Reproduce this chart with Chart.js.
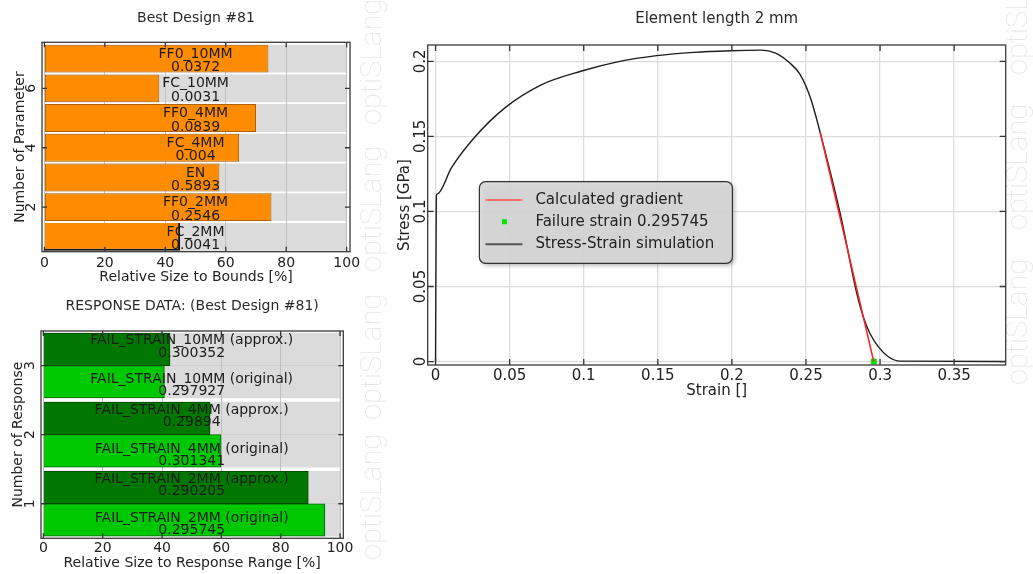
<!DOCTYPE html>
<html>
<head>
<meta charset="utf-8">
<script src="https://cdn.jsdelivr.net/npm/chart.js@4.4.0/dist/chart.umd.min.js"></script>
<style>
body { margin: 0; background: #fff; width: 1033px; height: 574px; overflow: hidden; position: relative; }
canvas { position: absolute; }
</style>
</head>
<body>
<canvas id="paramChart" width="390" height="290" style="left:0;top:0"></canvas>
<canvas id="responseChart" width="390" height="284" style="left:0;top:290px"></canvas>
<canvas id="strainChart" width="643" height="400" style="left:390px;top:0"></canvas>
<script>
Chart.defaults.font.family = '"DejaVu Sans", Verdana, sans-serif';
Chart.defaults.font.size = 14;
Chart.defaults.color = '#222';

// parameters of best design
var paramNames = ['FC_2MM', 'FF0_2MM', 'EN', 'FC_4MM', 'FF0_4MM', 'FC_10MM', 'FF0_10MM'];
var paramValues = ['0.0041', '0.2546', '0.5893', '0.004', '0.0839', '0.0031', '0.0372'];
var paramSize = [44.9, 75.1, 57.9, 64.4, 70.0, 38.0, 74.1];
var paramNumber = [1, 2, 3, 4, 5, 6, 7];
var paramTicks = [2, 4, 6];

// responses of best design
var responseNames = ['FAIL_STRAIN_2MM', 'FAIL_STRAIN_4MM', 'FAIL_STRAIN_10MM'];
var responseNumber = [1, 2, 3];
var approxValues = ['0.290205', '0.29894', '0.300352'];
var originalValues = ['0.295745', '0.301341', '0.297927'];
var approxSize = [89.3, 56.2, 42.7];
var originalSize = [94.9, 59.9, 40.8];
var responseTicks = [1, 2, 3];

var fullRange = 100;
var sizeTicks = [0, 20, 40, 60, 80, 100];

// stress-strain curve
var strain = [0, 0.0005, 0.0012, 0.0108, 0.0261, 0.0468, 0.0717, 0.098, 0.1243, 0.1492, 0.1741, 0.199, 0.2198,
    0.2295, 0.2391, 0.2461, 0.253, 0.2599, 0.2737, 0.2838, 0.2887, 0.2932, 0.2989, 0.3056, 0.3135, 0.385];
var stress = [0, 0.1104, 0.1117, 0.1292, 0.1491, 0.169, 0.1845, 0.1934, 0.2, 0.2038, 0.206, 0.2071, 0.2075,
    0.2055, 0.1989, 0.1912, 0.1757, 0.1514, 0.0961, 0.0474, 0.0297, 0.0187, 0.0098, 0.0032, 0.0003, 0];
var gradientStrain = [0.2595, 0.295745];
var gradientStress = [0.1531, 0];
var failureStrain = 0.295745;
var strainTicks = [0, 0.05, 0.1, 0.15, 0.2, 0.25, 0.3, 0.35];
var stressTicks = [0, 0.05, 0.1, 0.15, 0.2];

function fixedTicks(list) {
    return function (scale) {
        scale.ticks = list.map(function (v) { return {value: v}; });
    };
}

var watermark = {
    id: 'watermark',
    beforeDraw: function (chart, args, opts) {
        var ctx = chart.ctx;
        ctx.save();
        ctx.font = '100 29px Roboto, "DejaVu Sans"';
        ctx.fillStyle = '#e6e6e6';
        opts.starts.forEach(function (y) {
            ctx.save();
            ctx.translate(opts.x, y);
            ctx.rotate(-Math.PI / 2);
            ctx.fillText('optiSLang', 0, 0);
            ctx.restore();
        });
        ctx.restore();
    }
};

// box, inner tick marks and rotated y labels
var frame = {
    id: 'frame',
    afterDraw: function (chart, args, opts) {
        var ctx = chart.ctx, a = chart.chartArea;
        var xs = chart.scales.x, ys = chart.scales.y;
        ctx.save();
        ctx.strokeStyle = '#333';
        ctx.lineWidth = 1.3;
        ctx.beginPath();
        xs.ticks.forEach(function (t) {
            var px = xs.getPixelForValue(t.value);
            ctx.moveTo(px, a.bottom); ctx.lineTo(px, a.bottom - opts.tick);
            ctx.moveTo(px, a.top); ctx.lineTo(px, a.top + opts.tick);
        });
        ys.ticks.forEach(function (t) {
            var py = ys.getPixelForValue(t.value);
            ctx.moveTo(a.left, py); ctx.lineTo(a.left + opts.tick, py);
            ctx.moveTo(a.right, py); ctx.lineTo(a.right - opts.tick, py);
        });
        ctx.stroke();
        ctx.strokeStyle = '#3a3a3a';
        ctx.strokeRect(a.left, a.top, a.right - a.left, a.bottom - a.top);
        ctx.fillStyle = '#222';
        ctx.font = opts.labelFont;
        ctx.textAlign = 'center';
        ctx.textBaseline = 'middle';
        ys.ticks.forEach(function (t) {
            ctx.save();
            ctx.translate(opts.labelX, ys.getPixelForValue(t.value));
            ctx.rotate(-Math.PI / 2);
            ctx.fillText(String(t.value), 0, 0);
            ctx.restore();
        });
        ctx.restore();
    }
};

// two line text on every bar
var barText = {
    id: 'barText',
    afterDatasetsDraw: function (chart) {
        var ctx = chart.ctx;
        var cx = chart.scales.x.getPixelForValue(50);
        ctx.save();
        ctx.fillStyle = '#1c1c1c';
        ctx.font = '14px "DejaVu Sans"';
        ctx.textAlign = 'center';
        ctx.textBaseline = 'middle';
        chart.data.datasets.forEach(function (ds, i) {
            if (!ds.names) return;
            chart.getDatasetMeta(i).data.forEach(function (bar, j) {
                ctx.fillText(ds.names[j], cx, bar.y + ds.textDy[0]);
                ctx.fillText(ds.texts[j], cx, bar.y + ds.textDy[1]);
            });
        });
        ctx.restore();
    }
};

var boxLegend = {
    id: 'boxLegend',
    afterDraw: function (chart, args, opts) {
        var ctx = chart.ctx, a = chart.chartArea;
        var x = a.left + opts.left, y = a.top + opts.top, w = opts.width, h = opts.height;
        ctx.save();
        ctx.shadowColor = 'rgba(0,0,0,0.35)';
        ctx.shadowBlur = 4;
        ctx.shadowOffsetX = 2;
        ctx.shadowOffsetY = 2;
        ctx.beginPath();
        ctx.roundRect(x, y, w, h, 6);
        ctx.fillStyle = 'rgba(216,216,216,0.9)';
        ctx.fill();
        ctx.shadowColor = 'transparent';
        ctx.strokeStyle = '#333';
        ctx.lineWidth = 1.2;
        ctx.stroke();
        ctx.font = '15px "DejaVu Sans"';
        ctx.textBaseline = 'middle';
        ctx.textAlign = 'left';
        chart.data.datasets.forEach(function (ds, i) {
            var ry = y + opts.rows[i];
            if (ds.showLine === false) {
                ctx.fillStyle = ds.backgroundColor;
                ctx.fillRect(x + 22.5, ry - 2.5, 5, 5);
            } else {
                ctx.strokeStyle = ds.legendColor;
                ctx.lineWidth = 2;
                ctx.beginPath();
                ctx.moveTo(x + 6, ry);
                ctx.lineTo(x + 43, ry);
                ctx.stroke();
            }
            ctx.fillStyle = '#222';
            ctx.fillText(ds.label, x + 56, ry);
        });
        ctx.restore();
    }
};

new Chart(document.getElementById('paramChart'), {
    type: 'bar',
    data: {
        datasets: [{
            label: 'Relative Size',
            data: paramNumber.map(function (n, i) { return {x: paramSize[i], y: n}; }),
            names: paramNames,
            texts: paramValues,
            textDy: [-4.5, 9],
            backgroundColor: '#ff8c00',
            borderColor: function (c) { return c.dataIndex === 0 ? '#111' : '#b36200'; },
            borderWidth: function (c) { return c.dataIndex === 0 ? {top: 0, left: 0, right: 2, bottom: 2} : 1; },
            borderSkipped: false,
            grouped: false,
            barPercentage: 0.94,
            categoryPercentage: 1,
        }, {
            label: 'Bounds',
            data: paramNumber.map(function (n) { return {x: fullRange, y: n}; }),
            backgroundColor: 'rgba(190,190,190,0.55)',
            grouped: false,
            barPercentage: 0.94,
            categoryPercentage: 1,
        }],
    },
    options: {
        indexAxis: 'y',
        responsive: false,
        animation: false,
        layout: {padding: {left: 0, right: 40, top: 0, bottom: 0}},
        plugins: {
            legend: {display: false},
            tooltip: {enabled: false},
            title: {display: true, text: 'Best Design #81', fullSize: false, color: '#2a2a2a',
                font: {size: 14, weight: 'normal'}, padding: {top: 9.9, bottom: 15.6}},
            watermark: {x: 381, starts: [272, 125]},
            frame: {tick: 5, labelX: 31.5, labelFont: '14px "DejaVu Sans"'},
        },
        scales: {
            x: {
                type: 'linear', min: -0.8, max: 101.1,
                afterBuildTicks: fixedTicks(sizeTicks),
                afterFit: function (s) { s.height = 38.3; },
                grid: {color: '#c4c4c4', drawTicks: false},
                border: {display: false},
                ticks: {padding: 3.4, callback: function (v) { return String(v); }},
                title: {display: true, text: 'Relative Size to Bounds [%]', padding: {top: 0, bottom: 4.6}},
            },
            y: {
                type: 'linear', min: 0.5, max: 7.55, offset: false,
                afterBuildTicks: fixedTicks(paramTicks),
                afterFit: function (s) { s.width = 42; },
                grid: {display: false, offset: false},
                border: {display: false},
                ticks: {display: false},
                title: {display: true, text: 'Number of Parameter', padding: {top: 11.6, bottom: 0}},
            },
        },
    },
    plugins: [watermark, frame, barText],
});

var bothPositions = [];
responseNumber.forEach(function (n) { bothPositions.push(n + 0.235, n - 0.235); });

new Chart(document.getElementById('responseChart'), {
    type: 'bar',
    data: {
        datasets: [{
            label: 'approx.',
            data: responseNumber.map(function (n, i) { return {x: approxSize[i], y: n + 0.235}; }),
            names: responseNames.map(function (s) { return s + ' (approx.)'; }),
            texts: approxValues,
            textDy: [-8.5, 4],
            backgroundColor: '#007800',
            borderColor: '#004a00',
            borderWidth: 1,
            grouped: false,
            barPercentage: 1,
            categoryPercentage: 1,
        }, {
            label: 'original',
            data: responseNumber.map(function (n, i) { return {x: originalSize[i], y: n - 0.235}; }),
            names: responseNames.map(function (s) { return s + ' (original)'; }),
            texts: originalValues,
            textDy: [-2, 10],
            backgroundColor: '#00c800',
            borderColor: '#006a00',
            borderWidth: 1,
            grouped: false,
            barPercentage: 1,
            categoryPercentage: 1,
        }, {
            label: 'Range',
            data: bothPositions.map(function (p) { return {x: fullRange, y: p}; }),
            backgroundColor: 'rgba(190,190,190,0.55)',
            grouped: false,
            barPercentage: 1,
            categoryPercentage: 1,
        }],
    },
    options: {
        indexAxis: 'y',
        responsive: false,
        animation: false,
        layout: {padding: {left: 0, right: 46.7, top: 0, bottom: 0}},
        plugins: {
            legend: {display: false},
            tooltip: {enabled: false},
            title: {display: true, text: 'RESPONSE DATA: (Best Design #81)', fullSize: false, color: '#2a2a2a',
                font: {size: 14, weight: 'normal'}, padding: {top: 8.3, bottom: 15.9}},
            watermark: {x: 381, starts: [270, 130]},
            frame: {tick: 5, labelX: 30, labelFont: '14px "DejaVu Sans"'},
        },
        scales: {
            x: {
                type: 'linear', min: -0.8, max: 101.1,
                afterBuildTicks: fixedTicks(sizeTicks),
                afterFit: function (s) { s.height = 35.7; },
                grid: {color: '#c4c4c4', drawTicks: false},
                border: {display: false},
                ticks: {padding: 1.6, callback: function (v) { return String(v); }},
                title: {display: true, text: 'Relative Size to Response Range [%]', padding: {top: 0, bottom: 2.3}},
            },
            y: {
                type: 'linear', min: 0.5, max: 3.5, offset: false,
                afterBuildTicks: fixedTicks(responseTicks),
                afterFit: function (s) { s.width = 41; },
                grid: {display: false, offset: false},
                border: {display: false},
                ticks: {display: false},
                title: {display: true, text: 'Number of Response', padding: {top: 9.9, bottom: 0}},
            },
        },
    },
    plugins: [watermark, frame, barText],
});

new Chart(document.getElementById('strainChart'), {
    type: 'line',
    data: {
        datasets: [{
            label: 'Calculated gradient',
            data: gradientStrain.map(function (s, i) { return {x: s, y: gradientStress[i]}; }),
            borderColor: '#ff1f1f',
            legendColor: '#ff6a6a',
            borderWidth: 1.5,
            pointRadius: 0,
        }, {
            label: 'Failure strain ' + failureStrain,
            data: [{x: failureStrain, y: 0}],
            showLine: false,
            pointStyle: 'rect',
            pointRadius: 3.5,
            backgroundColor: '#00e600',
            borderColor: '#00e600',
        }, {
            label: 'Stress-Strain simulation',
            data: strain.map(function (s, i) { return {x: s, y: stress[i]}; }),
            borderColor: '#1e1e1e',
            legendColor: '#555',
            borderWidth: 1.4,
            pointRadius: 0,
            cubicInterpolationMode: 'monotone',
        }],
    },
    options: {
        responsive: false,
        animation: false,
        layout: {padding: {left: 0, right: 27.3, top: 0, bottom: 0}},
        plugins: {
            legend: {display: false},
            tooltip: {enabled: false},
            title: {display: true, text: 'Element length 2 mm', fullSize: false, color: '#2a2a2a',
                font: {size: 15, weight: 'normal'}, padding: {top: 10.2, bottom: 16.8}},
            watermark: {x: 637, starts: [385, 230, 75]},
            frame: {tick: 6, labelX: 31, labelFont: '15px "DejaVu Sans"'},
            boxLegend: {left: 51.7, top: 136.7, width: 253, height: 81.6, rows: [18.3, 40, 62.6]},
        },
        scales: {
            x: {
                type: 'linear', min: -0.0053, max: 0.3848,
                afterBuildTicks: fixedTicks(strainTicks),
                afterFit: function (s) { s.height = 35; },
                grid: {color: '#dcdcdc', lineWidth: 1.3, drawTicks: false},
                border: {display: false},
                ticks: {padding: 2, font: {size: 15}, callback: function (v) { return String(v); }},
                title: {display: true, text: 'Strain []', font: {size: 15}, padding: {top: 0, bottom: 0}},
            },
            y: {
                type: 'linear', min: -0.0023, max: 0.2109,
                afterBuildTicks: fixedTicks(stressTicks),
                afterFit: function (s) { s.width = 37.7; },
                grid: {color: '#dcdcdc', lineWidth: 1.3, drawTicks: false},
                border: {display: false},
                ticks: {display: false},
                title: {display: true, text: 'Stress [GPa]', font: {size: 15}, padding: {top: 6, bottom: 0}},
            },
        },
    },
    plugins: [watermark, frame, boxLegend],
});
</script>
</body>
</html>
